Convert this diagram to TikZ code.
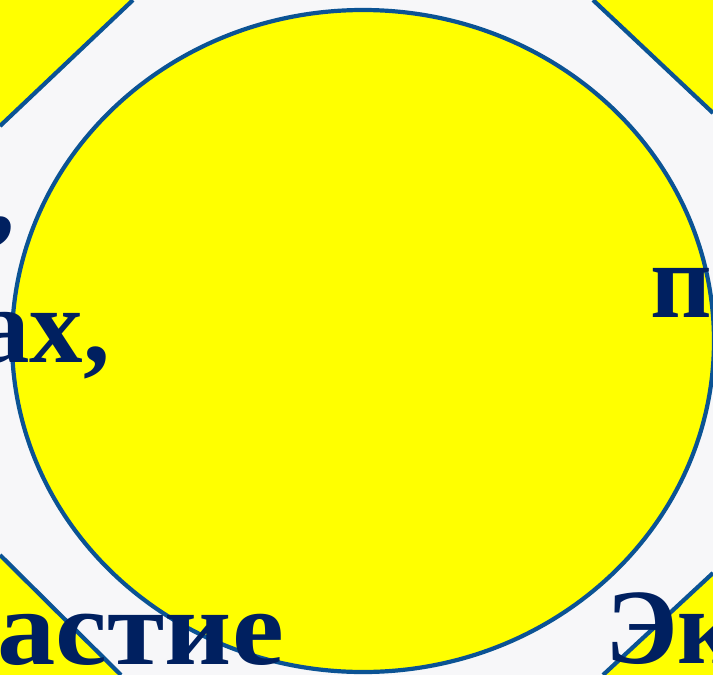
\documentclass[tikz,border=0pt]{standalone}
\usepackage{fontspec}
\setmainfont{Liberation Serif}
\definecolor{sun}{HTML}{FFFF00}
\definecolor{rim}{HTML}{0B5394}
\definecolor{ink}{HTML}{002060}
\definecolor{paper}{HTML}{F7F7F9}

\begin{document}
\begin{tikzpicture}[x=1pt, y=-1pt,
                    rimline/.style={draw=rim, line width=4.2pt},
                    word/.style={inner sep=0pt, text=ink,
                                 font=\fontsize{107}{120}\selectfont\bfseries}]
  \useasboundingbox (0,0) rectangle (713,675);
  \clip (0,0) rectangle (713,675);
  \fill[paper] (0,0) rectangle (713,675);
  % yellow corners
  \fill[sun] (0,0) -- (133,0) -- (0,126) -- cycle;
  \fill[sun] (593,0) -- (713,0) -- (713,113) -- cycle;
  \fill[sun] (0,555) -- (121,675) -- (0,675) -- cycle;
  \fill[sun] (713,573) -- (713,675) -- (603,675) -- cycle;
  \draw[rimline] (133,0) -- (0,126);
  \draw[rimline] (593,0) -- (713,113);
  \draw[rimline] (0,555) -- (121,675);
  \draw[rimline] (713,573) -- (603,675);
  % big disc
  \draw[rimline, fill=sun] (363,341) ellipse [x radius=351, y radius=331];
  % cut-off words
  \node[word, anchor=base east] (comma) at (15,232) {,};
  \node[word, anchor=base east] (ax) at (110,362) {ах,};
  \node[word, anchor=base west] (pe) at (650,317) {п};
  \node[word, anchor=base east] (astie) at (284,664)
    {\addfontfeature{FakeStretch=1.09}астие};
  \node[word, anchor=base west] (ek) at (605,663) {Эк};
\end{tikzpicture}
\end{document}
